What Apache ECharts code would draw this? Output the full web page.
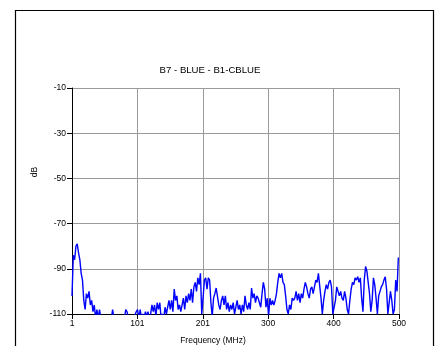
<!DOCTYPE html>
<html><head><meta charset="utf-8">
<script src="https://cdn.jsdelivr.net/npm/echarts@6/dist/echarts.min.js"></script>
<style>html,body{margin:0;padding:0;background:#fff}#c{width:440px;height:346px}</style>
</head><body><div id="c"></div>
<script>
// Sampling grid: start frequency and step in MHz
const freqStart = 1;
const freqStep = 2;
// Level in dB at each sampled frequency (values below -110 are clipped at the floor)
const dB = [
  -102, -84, -86, -80, -79, -83, -86, -92, -95, -104,
  -108, -101, -103, -100, -106, -104, -109, -106, -112, -108,
  -112, -108, -112, -112, -112, -112, -112, -112, -112, -112,
  -112, -108, -112, -112, -112, -112, -112, -112, -112, -112,
  -112, -108, -109, -112, -112, -112, -112, -112, -112, -109,
  -108, -112, -108, -112, -110, -112, -109, -111, -109, -112,
  -110, -106, -109, -106, -111, -105, -108, -105, -112, -110,
  -112, -107, -110, -107, -104, -108, -104, -109, -99, -104,
  -102, -108, -106, -109, -106, -103, -108, -102, -105, -101,
  -104, -99, -105, -98, -96, -100, -94, -97, -92, -110,
  -103, -95, -94, -99, -94, -95, -105, -111, -103, -101,
  -98.5, -99, -106, -108, -104, -102, -106, -102, -108, -105,
  -109, -106, -108, -105, -110, -107, -104, -108, -106, -110,
  -106, -109, -102, -106, -108, -105, -108, -98.5, -103, -101,
  -105, -102, -103, -105, -107, -101, -96, -99, -107, -103,
  -111, -103, -106, -104, -106, -104, -101, -96, -92, -94,
  -92, -96, -97, -102, -108, -110, -106, -108, -103, -104,
  -103, -100, -104, -101, -105, -101, -103, -99, -96, -98,
  -101, -103, -99, -98, -101, -98, -95, -96, -92, -92.5,
  -103, -110, -104, -100, -97, -99, -96, -95, -98, -110,
  -110, -104, -98, -100, -102, -100, -103, -104, -100, -103,
  -108, -110, -104, -99, -96, -97, -94, -95, -93.5, -96,
  -94, -103, -109, -95, -89, -91, -96, -101, -109, -104,
  -94, -97, -103, -110, -102, -100, -98, -97, -95, -93.5,
  -99, -110, -105, -100, -104, -110, -108, -95, -100, -85
];
const xTickLabels = ['1', '101', '201', '300', '400', '500'];
const yTickLabels = ['-110', '-90', '-70', '-50', '-30', '-10'];
const titleText = 'B7 - BLUE - B1-CBLUE';
const xName = 'Frequency (MHz)';
const yName = 'dB';

const points = dB.map((v, i) => [freqStart + i * freqStep, v]);
const FONT = '"Liberation Sans", Arial, sans-serif';
const grid = '#9a9a9a';

const chart = echarts.init(document.getElementById('c'), null, {renderer: 'canvas'});
chart.setOption({
  animation: false,
  backgroundColor: '#fff',
  grid: {left: 72, top: 88, width: 327, height: 226, containLabel: false},
  xAxis: [
    {type: 'value', min: 1, max: 500, position: 'top', show: false},
    {type: 'value', min: 0, max: 5, interval: 1, position: 'bottom',
     axisLine: {show: true, lineStyle: {color: '#000', width: 1}},
     axisTick: {show: true, length: 5, lineStyle: {color: '#000'}},
     axisLabel: {color: '#000', fontSize: 8.5, fontFamily: FONT, margin: 5,
       formatter: v => xTickLabels[Math.round(v)]},
     splitLine: {show: true, lineStyle: {color: grid, width: 1}}}
  ],
  yAxis: [
    {type: 'value', min: -110, max: -10, position: 'right', show: false},
    {type: 'value', min: 0, max: 5, interval: 1, position: 'left',
     axisLine: {show: true, lineStyle: {color: '#000', width: 1}},
     axisTick: {show: true, length: 5, lineStyle: {color: '#000'}},
     axisLabel: {color: '#000', fontSize: 8.5, fontFamily: FONT, margin: 6,
       formatter: v => yTickLabels[Math.round(v)]},
     splitLine: {show: true, lineStyle: {color: grid, width: 1}}}
  ],
  series: [{
    type: 'line', xAxisIndex: 0, yAxisIndex: 0, data: points,
    showSymbol: false, symbol: 'none', clip: true,
    lineStyle: {color: '#0000ff', width: 1.4}
  }],
  graphic: [
    {type: 'rect', shape: {x: 15.5, y: 10.5, width: 418, height: 400},
     style: {fill: 'none', stroke: '#000', lineWidth: 1.2}, silent: true},
    {type: 'text', x: 210, y: 70, style: {text: titleText, fill: '#000',
      font: '9.6px ' + FONT, textAlign: 'center', textVerticalAlign: 'middle'}},
    {type: 'text', x: 213, y: 341, style: {text: xName, fill: '#000',
      font: '8.5px ' + FONT, textAlign: 'center', textVerticalAlign: 'middle'}},
    {type: 'text', x: 35, y: 172, rotation: Math.PI / 2, style: {text: yName, fill: '#000',
      font: '8.5px ' + FONT, textAlign: 'center', textVerticalAlign: 'middle'}}
  ]
});
</script></body></html>
